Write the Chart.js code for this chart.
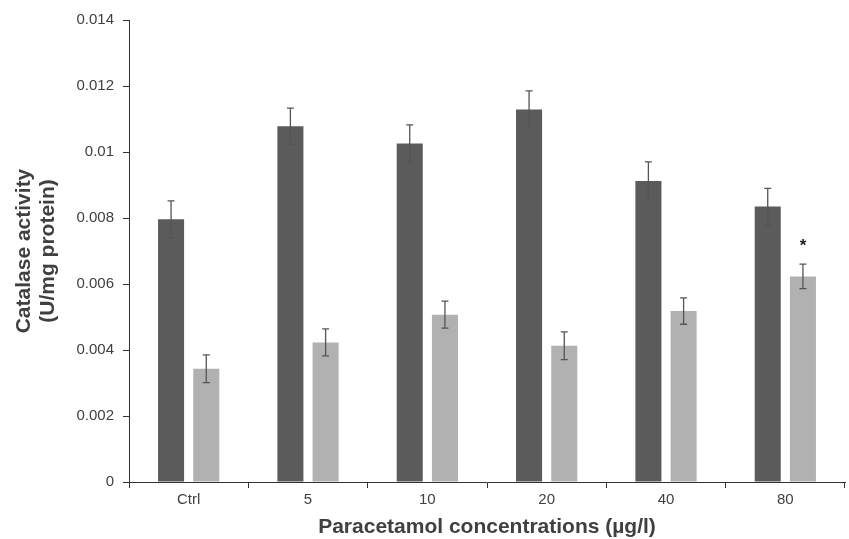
<!DOCTYPE html>
<html>
<head>
<meta charset="utf-8">
<script src="https://cdn.jsdelivr.net/npm/chart.js@4/dist/chart.umd.min.js"></script>
<style>
    body { margin: 0; background: #fff; }
    #wrap { width: 849px; height: 539px; position: relative; }
</style>
</head>
<body>
<div id="wrap"><canvas id="catalaseChart"></canvas></div>
<script>
// Catalase activity by paracetamol concentration

const categories = ['Ctrl', '5', '10', '20', '40', '80'];

const darkValues = [0.00796, 0.01078, 0.01026, 0.01129, 0.00912, 0.00835];
const darkErrors = [0.00056, 0.00055, 0.00056, 0.00056, 0.00058, 0.00055];

const lightValues = [0.00343, 0.00423, 0.00507, 0.00413, 0.00518, 0.00623];
const lightErrors = [0.00042, 0.00041, 0.00041, 0.00042, 0.00040, 0.00037];
const lightMarks = ['', '', '', '', '', '*'];

const yTicks = [0, 0.002, 0.004, 0.006, 0.008, 0.01, 0.012, 0.014];

const fontFamily = "'Liberation Sans', Arial, sans-serif";
const textColor = '#404040';
const axisColor = '#333333';

// Draws error bars and significance marks from the dataset extras
const errorBarPlugin = {
    id: 'errorBars',
    afterDatasetsDraw(chart) {
        const ctx = chart.ctx;
        const yScale = chart.scales.y;
        ctx.save();
        chart.data.datasets.forEach((dataset, i) => {
            const meta = chart.getDatasetMeta(i);
            meta.data.forEach((bar, j) => {
                const value = dataset.data[j];
                const err = dataset.errors[j];
                const x = bar.x;
                const yTop = yScale.getPixelForValue(value + err);
                const yBottom = yScale.getPixelForValue(value - err);
                ctx.strokeStyle = '#555555';
                ctx.lineWidth = 1.3;
                ctx.beginPath();
                ctx.moveTo(x, yTop);
                ctx.lineTo(x, yBottom);
                ctx.moveTo(x - 3.5, yTop);
                ctx.lineTo(x + 3.5, yTop);
                ctx.moveTo(x - 3.5, yBottom);
                ctx.lineTo(x + 3.5, yBottom);
                ctx.stroke();

                const mark = dataset.marks ? dataset.marks[j] : '';
                if (mark) {
                    ctx.fillStyle = '#222222';
                    ctx.font = 'bold 17px ' + fontFamily;
                    ctx.textAlign = 'center';
                    ctx.textBaseline = 'middle';
                    ctx.fillText(mark, x, yTop - 18);
                }
            });
        });
        ctx.restore();
    }
};

const ctx = document.getElementById('catalaseChart').getContext('2d');
new Chart(ctx, {
    type: 'bar',
    data: {
        labels: categories,
        datasets: [{
            label: 'Series 1',
            data: darkValues,
            errors: darkErrors,
            backgroundColor: '#5b5b5b',
            categoryPercentage: 0.59,
            barPercentage: 0.74
        }, {
            label: 'Series 2',
            data: lightValues,
            errors: lightErrors,
            marks: lightMarks,
            backgroundColor: '#b1b1b1',
            categoryPercentage: 0.59,
            barPercentage: 0.74
        }]
    },
    options: {
        responsive: true,
        maintainAspectRatio: false,
        animation: false,
        layout: {
            padding: { left: 0, top: 20, right: 4, bottom: 0 }
        },
        plugins: {
            legend: { display: false },
            tooltip: { enabled: false }
        },
        scales: {
            x: {
                afterFit: scale => { scale.height = 57; },
                grid: {
                    drawOnChartArea: false,
                    color: axisColor,
                    tickLength: 6,
                    offset: true
                },
                border: { color: axisColor, width: 1 },
                ticks: {
                    color: textColor,
                    padding: 3,
                    font: { family: fontFamily, size: 15 }
                },
                title: {
                    display: true,
                    text: 'Paracetamol concentrations (µg/l)',
                    color: textColor,
                    padding: { top: 0, bottom: 0 },
                    font: { family: fontFamily, size: 21, weight: 'bold', lineHeight: 1.1 }
                }
            },
            y: {
                min: 0,
                max: 0.014,
                afterFit: scale => { scale.width = 129; },
                afterBuildTicks: scale => {
                    scale.ticks = yTicks.map(v => ({ value: v }));
                },
                grid: {
                    drawOnChartArea: false,
                    color: axisColor,
                    tickLength: 6
                },
                border: { color: axisColor, width: 1 },
                ticks: {
                    color: textColor,
                    padding: 9,
                    font: { family: fontFamily, size: 15 },
                    callback: value => String(Number(value.toFixed(3)))
                },
                title: {
                    display: true,
                    text: ['Catalase activity', '(U/mg protein)'],
                    color: textColor,
                    padding: { top: 12, bottom: 0 },
                    font: { family: fontFamily, size: 21, weight: 'bold', lineHeight: 1.15 }
                }
            }
        }
    },
    plugins: [errorBarPlugin]
});
</script>
</body>
</html>
